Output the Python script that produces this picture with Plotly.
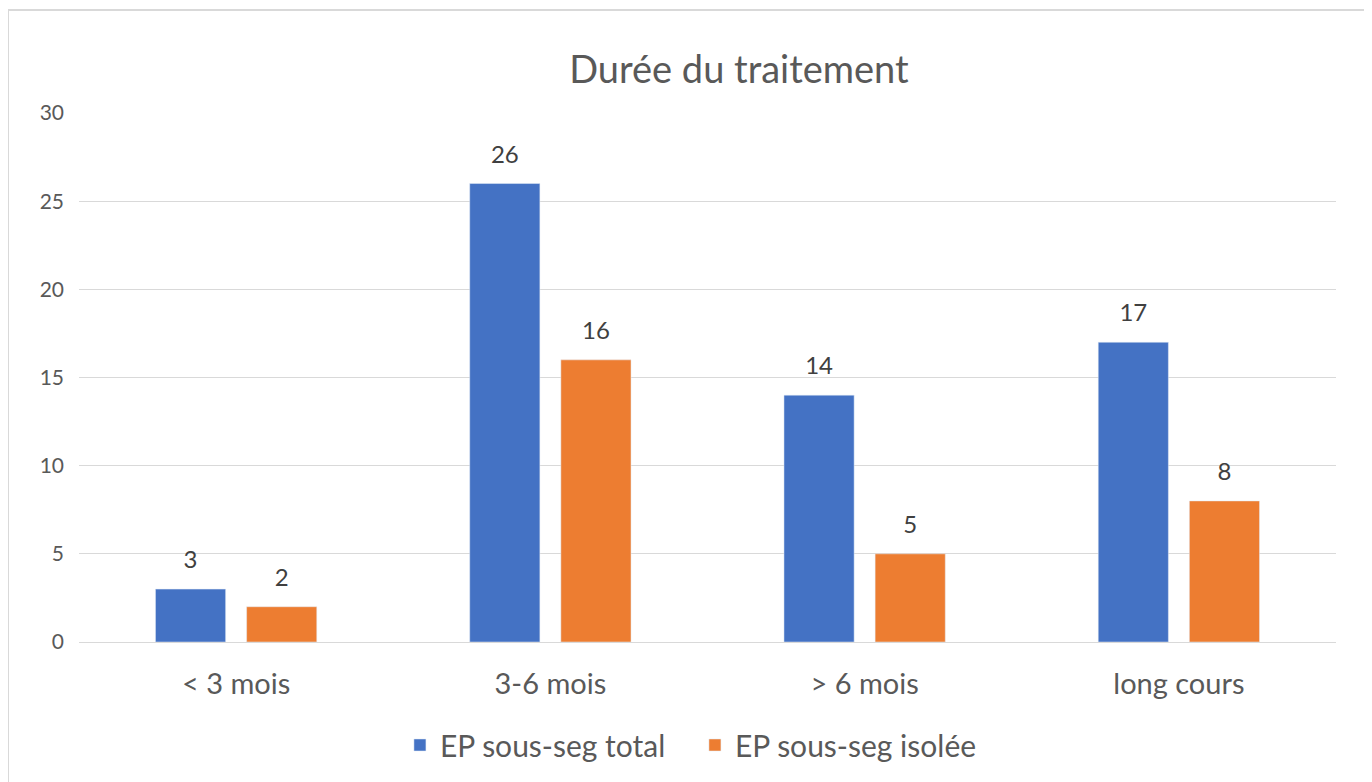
import plotly.graph_objs as go

## data
categories = ["< 3 mois", "3-6 mois", "> 6 mois", "long cours"]
total = [3, 26, 14, 17]
isolee = [2, 16, 5, 8]
series_names = ["EP sous-seg total", "EP sous-seg isolée"]
colors = ["#4472C4", "#ED7D31"]
y_ticks = [0, 5, 10, 15, 20, 25, 30]

font_family = "Lato, 'Open Sans', sans-serif"
grey = "#595959"

data = []
## bars
for i, (name, values) in enumerate(zip(series_names, [total, isolee])):
	data.append(go.Bar(x=categories, y=values,
					name=name,
					offsetgroup=str(i),
					marker=dict(color=colors[i]),
					hoverinfo="x+y+name"))
## value labels, placed above each bar through the scatter grouping
for i, values in enumerate([total, isolee]):
	data.append(go.Scatter(x=categories, y=values,
						mode="markers+text",
						offsetgroup=str(i),
						text=[str(v) for v in values],
						textposition="top center",
						textfont=dict(family=font_family, size=24, color="#404040"),
						marker=dict(size=22, opacity=0),
						showlegend=False, hoverinfo="skip",
						cliponaxis=False))

layout = go.Layout(barmode="group",
				scattermode="group",
				bargap=0.42,
				scattergap=0.42,
				bargroupgap=0.23,
				width=1372, height=782,
				margin=dict(l=71, r=44, t=105, b=148),
				paper_bgcolor="white",
				plot_bgcolor="white",
				font=dict(family=font_family, color=grey),
				title=dict(text="Durée du traitement",
						xref="paper", x=0.525, xanchor="center",
						y=1 - 62/782, yanchor="middle",
						font=dict(family=font_family, size=38, color=grey)),
				xaxis=dict(showgrid=False, showline=False, ticks="",
						tickfont=dict(size=29, color=grey),
						ticklabelstandoff=22),
				yaxis=dict(range=[0, 30], tickvals=y_ticks,
						showgrid=True, gridcolor="#d9d9d9", gridwidth=1,
						zeroline=True, zerolinecolor="#d9d9d9", zerolinewidth=1,
						showline=False, ticks="",
						tickfont=dict(size=21, color=grey),
						ticklabelstandoff=14),
				legend=dict(orientation="h", x=0.49, xanchor="center",
						y=-0.1947, yanchor="middle",
						font=dict(size=30, color=grey),
						itemwidth=30, entrywidth=250, entrywidthmode="pixels",
						traceorder="normal"),
				showlegend=True,
				shapes=[dict(type="rect", xref="paper", yref="paper",
							x0=-0.0565, x1=1.0239, y0=-0.5, y1=1.1947,
							line=dict(color="#d9d9d9", width=2),
							fillcolor="rgba(0,0,0,0)", layer="below")])

fig = go.Figure(data=data, layout=layout)
fig.write_html("out.html")
